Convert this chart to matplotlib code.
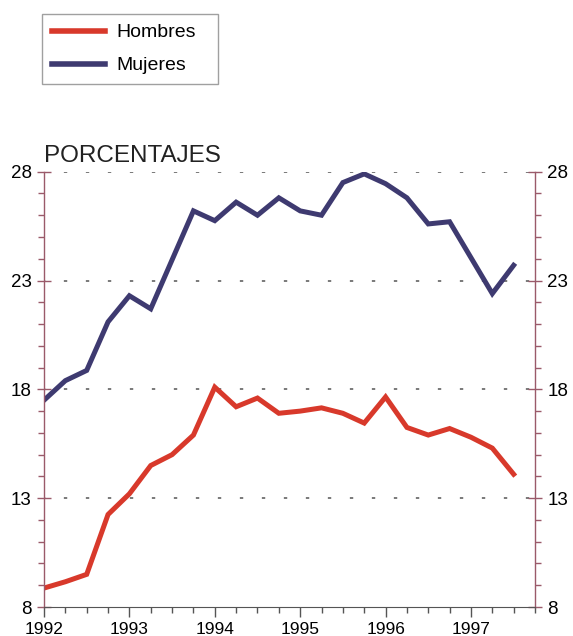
import numpy as np
import matplotlib
matplotlib.use("Agg")
import matplotlib.pyplot as plt
from matplotlib.ticker import MultipleLocator, FixedLocator

plt.rcParams['font.family'] = ['Liberation Sans', 'DejaVu Sans']

# Quarterly observations, 1992 Q1 .. 1997 Q3
periods = [1992 + 0.25 * i for i in range(23)]
hombres = [8.87, 9.16, 9.5, 12.25, 13.2, 14.5, 15.0, 15.9,
           18.1, 17.2, 17.6, 16.9, 17.0, 17.15, 16.9, 16.45,
           17.65, 16.25, 15.9, 16.2, 15.8, 15.3, 14.1]
mujeres = [17.5, 18.4, 18.87, 21.1, 22.3, 21.7, 23.95, 26.2,
           25.75, 26.6, 26.0, 26.8, 26.2, 26.0, 27.5, 27.9,
           27.45, 26.8, 25.6, 25.7, 24.05, 22.4, 23.7]
year_ticks = [1992, 1993, 1994, 1995, 1996, 1997]
y_ticks = [8, 13, 18, 23, 28]
series_names = ["Hombres", "Mujeres"]
title_text = "PORCENTAJES"

RED = "#d8392b"
BLUE = "#3e3a70"
SPINE = "#9a5a6a"

W, H = 573, 636
fig = plt.figure(figsize=(W / 100, H / 100), dpi=100)
ax = fig.add_axes([44 / W, 1 - 607 / H, (535 - 44) / W, (607 - 171.7) / H])

l1, = ax.plot(periods, hombres, color=RED, lw=3.6, solid_joinstyle='miter',
              label=series_names[0])
l2, = ax.plot(periods, mujeres, color=BLUE, lw=3.6, solid_joinstyle='miter',
              label=series_names[1])

ax.set_xlim(1992, 1997.75)
ax.set_ylim(8, 28)

# dotted horizontal reference lines
for v in y_ticks[1:]:
    ax.axhline(v, color="#555555", lw=1.1, linestyle=(1.4, (2.2, 12.2)), zorder=0)

# x axis: years with quarterly minor ticks
ax.xaxis.set_major_locator(FixedLocator(year_ticks))
ax.xaxis.set_minor_locator(MultipleLocator(0.25))
ax.set_xticklabels([str(y) for y in year_ticks])
ax.tick_params(axis='x', which='major', direction='out', length=7, width=1,
               color="#555555", labelsize=12.5, pad=3.5)
ax.tick_params(axis='x', which='minor', direction='out', length=4, width=1,
               color="#555555")

# y axis on both sides
ax.yaxis.set_major_locator(FixedLocator(y_ticks))
ax.yaxis.set_minor_locator(MultipleLocator(1))
ax.tick_params(axis='y', which='major', direction='inout', length=10, width=1,
               color=SPINE, labelsize=13.5, pad=4, left=True, right=True,
               labelleft=True, labelright=True)
ax.tick_params(axis='y', which='minor', direction='out', length=4, width=1,
               color=SPINE, left=True, right=True)

for side in ("left", "right"):
    ax.spines[side].set_color(SPINE)
    ax.spines[side].set_linewidth(1.0)
ax.spines["bottom"].set_color("#555555")
ax.spines["top"].set_visible(False)

ax.text(0.0, 1.010, title_text, transform=ax.transAxes, fontsize=17.5,
        color="#222222", ha='left', va='bottom')

leg = fig.legend(handles=[l1, l2], loc='upper left', mode='expand',
                 bbox_to_anchor=(42 / W, 1 - 83 / H, (218 - 42) / W, 69 / H),
                 borderaxespad=0, fontsize=14, frameon=True, fancybox=False,
                 edgecolor="#888888", handlelength=2.73, handletextpad=0.57,
                 labelspacing=0.8, borderpad=0.5)
leg.get_frame().set_linewidth(1.0)
for lh in leg.get_lines():
    lh.set_linewidth(4.0)

fig.savefig("out.png", dpi=100)
